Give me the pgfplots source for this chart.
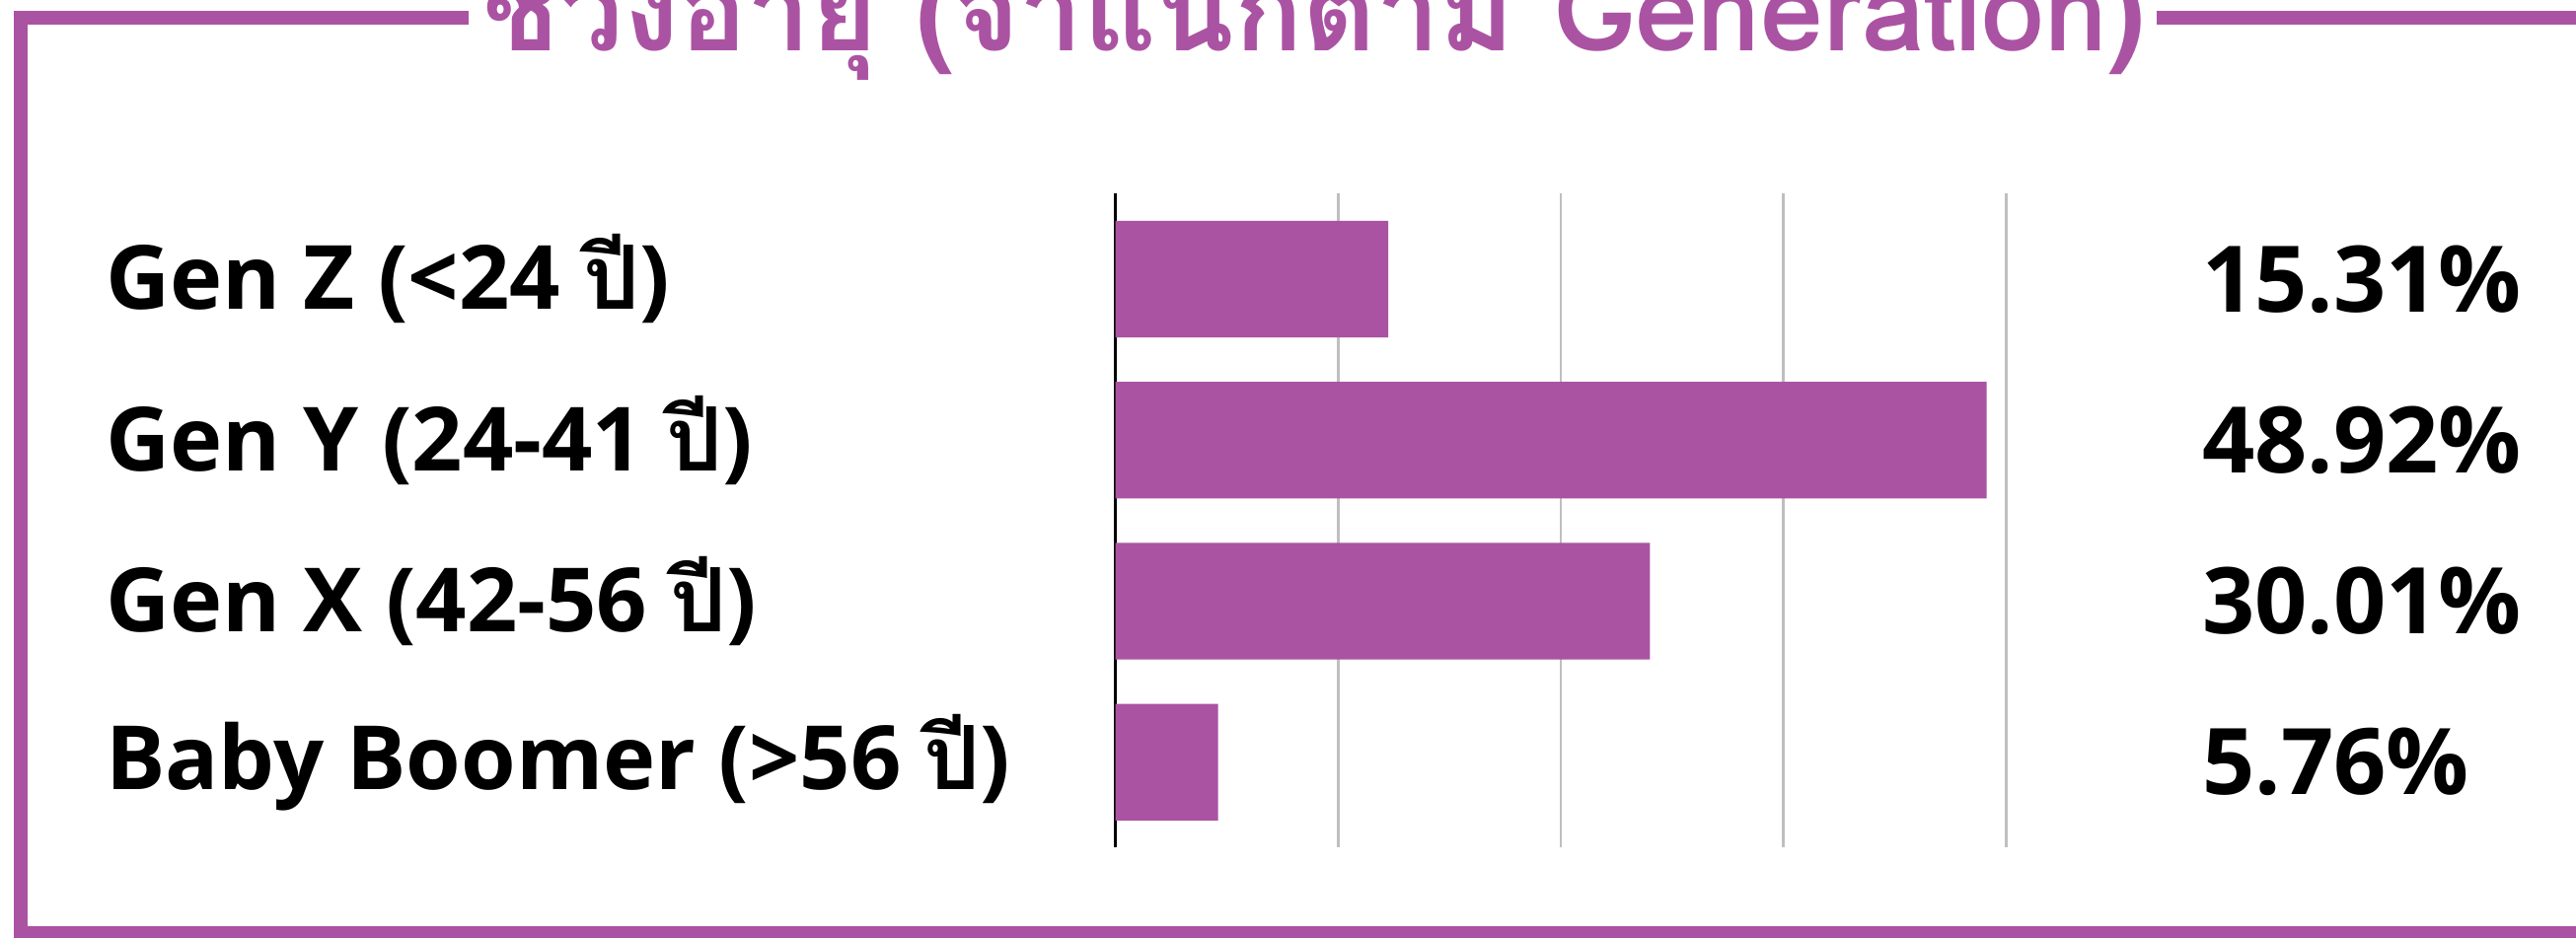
\documentclass[border=0pt]{standalone}
\usepackage{fontspec}
\IfFontExistsTF{Noto Sans Bold}{\setmainfont{Noto Sans}[BoldFont={Noto Sans Bold}]}{\setmainfont{Open Sans}[BoldFont={Open Sans Bold}]}
\newfontfamily\thai[Script=Thai]{Loma}
\usepackage{pgfplots}
\pgfplotsset{compat=1.18}
\definecolor{purp}{RGB}{171,83,163}
\definecolor{gridg}{RGB}{191,191,191}
\begin{document}
\begin{tikzpicture}
\useasboundingbox (0,0) rectangle (784pt,285.5pt);
\begin{scope}
\clip (0,0) rectangle (784pt,285.5pt);
\draw[purp, line width=4.2pt] (142.5pt,280pt) -- (6.25pt,280pt) -- (6.25pt,1.5pt) -- (800pt,1.5pt);
\draw[purp, line width=4.2pt] (656.5pt,280pt) -- (800pt,280pt);
\node[anchor=base, text=purp, inner sep=0] at (400pt,270pt) {\fontsize{34.5}{40}\selectfont\thai\bfseries ช่วงอายุ (จำแนกตาม Generation)};
\end{scope}
\begin{axis}[
  at={(339.5pt,27.5pt)}, anchor=south west,
  scale only axis, width=271pt, height=199pt,
  xmin=0, xmax=50, ymin=-0.53, ymax=3.53, y dir=reverse,
  xtick={12.5,25,37.5,50}, xticklabels={},
  xmajorgrids, major grid style={gridg, line width=0.8pt},
  major tick length=0pt,
  axis y line*=left, axis x line*=bottom,
  x axis line style={draw=none},
  y axis line style={black, line width=0.8pt, -},
  ytick={0,1,2,3},
  yticklabels={Gen Z (<24 {\thai ปี}), Gen Y (24-41 {\thai ปี}), Gen X (42-56 {\thai ปี}), Baby Boomer (>56 {\thai ปี})},
  yticklabel style={anchor=west, inner sep=0pt, xshift=-307.5pt, font=\fontsize{27}{32}\selectfont\bfseries},
  clip=false,
]
\addplot[xbar, bar width=35.5pt, fill=purp, draw=none] coordinates {(15.31,0) (48.92,1) (30.01,2) (5.76,3)};
\addplot[draw=none, mark=none,
  nodes near coords, point meta=explicit symbolic,
  nodes near coords style={anchor=west, inner sep=0pt, font=\fontsize{28}{33}\selectfont\bfseries, text=black}]
  table[meta=lab] {
x y lab
61 0 15.31\%
61 1 48.92\%
61 2 30.01\%
61 3 5.76\%
};
\end{axis}
\end{tikzpicture}
\end{document}
